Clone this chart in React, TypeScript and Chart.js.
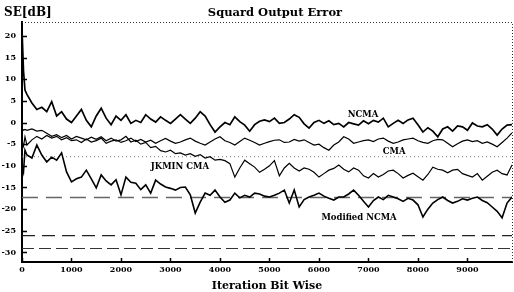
import React, { useEffect, useRef } from "react";
import { Chart, registerables } from "chart.js";
Chart.register(...registerables);

const iterations = [
  0, 30, 60,
  100, 200, 300, 400, 500, 600, 700, 800, 900,
  1000, 1100, 1200, 1300, 1400, 1500, 1600, 1700, 1800, 1900,
  2000, 2100, 2200, 2300, 2400, 2500, 2600, 2700, 2800, 2900,
  3000, 3100, 3200, 3300, 3400, 3500, 3600, 3700, 3800, 3900,
  4000, 4100, 4200, 4300, 4400, 4500, 4600, 4700, 4800, 4900,
  5000, 5100, 5200, 5300, 5400, 5500, 5600, 5700, 5800, 5900,
  6000, 6100, 6200, 6300, 6400, 6500, 6600, 6700, 6800, 6900,
  7000, 7100, 7200, 7300, 7400, 7500, 7600, 7700, 7800, 7900,
  8000, 8100, 8200, 8300, 8400, 8500, 8600, 8700, 8800, 8900,
  9000, 9100, 9200, 9300, 9400, 9500, 9600, 9700, 9800, 9900,
];

const ncma = [
  21.5, 12, 7.5,
  6.5, 4.5, 3, 3.5, 2.5, 4.8, 1.5, 2.5, 0.8,
  0, 1.5, 3, 0.5, -1, 1.5, 3.3, 1, -0.5, 1.5,
  0.5, 1.8, -0.2, 0.5, 0, 1.8, 0.8, 0.1, 1.3, 0.5,
  -0.2, 0.8, 1.8, 0.8, -0.2, 1, 2.5, 1.5, -0.5, -2.2,
  -1, 0, -0.5, 1.3, 0.2, -0.6, -2, -0.5, 0.3, 0.6,
  0.2, 1, -0.2, 0, 0.8, 1.8, 1.2, -0.3, -1.3, 0,
  0.5, -0.2, 0.4, -0.5, -0.2, -1, 0, -0.3, -0.6, 0.4,
  -0.3, 0.5, 0.1, 1, -1, -0.2, 0.5, -0.2, 0.6, 1,
  -0.5, -2.2, -1.2, -2, -3.3, -1.5, -1, -2, -0.8, -1,
  -1.8, -0.1, -0.8, -1, -0.5, -1.5, -2.9, -1.5, -0.6, -0.5,
];

const cma = [
  -4.5, -5.5, -3.3,
  -5.2, -4, -3.2, -3.8, -3, -3.6, -3.2, -4, -3.5,
  -4.2, -4, -4.6, -3.8, -4.5, -4.2, -3.6, -4.8, -4.3, -4,
  -4.6, -4.2, -3.6, -4.4, -3.9, -4.5, -4.1, -4.8, -4.2, -3.7,
  -4.3, -4.8, -4.5, -4, -3.6, -4.3, -4.8, -5.2, -4.5, -3.8,
  -3.3, -4.2, -4.6, -5.2, -4.4, -3.6, -4.1, -4.6, -5.2, -4.8,
  -4.4, -4.1, -4, -4.6, -4.5, -3.9, -4.3, -4, -4.6, -5.2,
  -5, -5.8, -6.4, -5.2, -4.5, -3.3, -3.8, -4.8, -4.5, -4.2,
  -4, -4.4, -3.8, -3.6, -4.3, -4.8, -4.5, -4, -3.8, -3.6,
  -4.2, -4.6, -4.8, -4.2, -3.9, -4, -4.8, -5.6, -4.9, -4.3,
  -4, -4.4, -4.2, -4.8, -4.5, -5, -5.6, -4.6, -3.6, -2.4,
];

const jkminCma = [
  -1.5, -1.8, -1.6,
  -1.8, -1.5, -2, -1.8, -2.5, -3.2, -2.8, -3.5, -3,
  -3.8, -3.2, -3.6, -4, -3.4, -3.9, -3.3, -4.2, -3.6, -4.3,
  -4, -3.2, -4.5, -4.1, -5, -4.6, -5.8, -5.5, -6.5, -6.8,
  -6.4, -7.2, -7, -7.5, -7.2, -7.8, -7.4, -8.2, -7.9, -8.7,
  -8.5, -8.8, -9.5, -12.6, -10.5, -8.7, -9.5, -10.3, -11.5, -10.8,
  -10, -8.8, -12.3, -10.5, -9.4, -10.5, -11.2, -10.5, -10.8, -11.5,
  -12.6, -11.8, -11, -10.6, -9.8, -10.8, -11.4, -10.5, -11, -12.3,
  -12.8, -11.8, -12.6, -12, -11.2, -11, -11.8, -12.8, -12.2, -11.7,
  -12.5, -13.3, -12, -10.3, -10.8, -11, -11.6, -11, -10.8, -11.8,
  -12.2, -12.6, -11.8, -13.3, -12.4, -11.5, -11, -11.8, -12.1, -9.8,
];

const modifiedNcma = [
  -10, -11.4, -6.4,
  -7.5, -8.2, -5.2, -7.5, -9.1, -8, -8.7, -7, -11.4,
  -13.7, -13, -12.6, -11, -13, -15.1, -12.1, -13.5, -14.4, -13.2,
  -16.7, -12.6, -13.8, -14, -15.5, -14.4, -16.3, -13.3, -14.2, -14.9,
  -15.2, -15.6, -15, -14.9, -16.7, -20.9, -18.4, -16.3, -16.8, -15.6,
  -17.2, -18.4, -17.9, -16.3, -17.4, -16.8, -17.2, -16.3, -16.5, -17,
  -17.2, -16.8, -16.3, -15.6, -18.6, -15.6, -19.5, -17.8, -17.2, -16.8,
  -16.3, -17, -17.5, -17.9, -17.2, -17.2, -16.5, -15.6, -16.8, -18.2,
  -19.5, -18, -17.2, -17.8, -16.8, -17.2, -17.6, -18.2, -17.5, -17.9,
  -19, -21.8, -20, -18.6, -17.8, -17.2, -18, -18.6, -18.2, -17.6,
  -17.9, -17.5, -17.2, -18, -18.5, -19.5, -20.5, -22, -18.6, -17.2,
];

const referenceLevels = [-7.9, -17.3, -26.1, -29.1];

const xTickValues = [0, 1000, 2000, 3000, 4000, 5000, 6000, 7000, 8000, 9000];
const yTickValues = [20, 15, 10, 5, 0, -5, -10, -15, -20, -25, -30];

const seriesNames = ["NCMA", "CMA", "JKMIN CMA", "Modified NCMA"];
const labelIterations = [6890, 7520, 3190, 6810];
const labelLevels = [1.7, -6.8, -10.3, -22.1];

const X_MIN = 0;
const X_MAX = 9900;
const Y_MIN = -32.2;
const Y_MAX = 23.2;

const FONT = "'DejaVu Serif', serif";

export default function App() {
  const ref = useRef<HTMLCanvasElement>(null);

  useEffect(() => {
    document.body.style.margin = "0";
    const canvas = ref.current;
    if (!canvas) return;

    const pts = (arr: number[]) => iterations.map((x, i) => ({ x, y: arr[i] }));
    const widths = [1.7, 1.2, 1.2, 1.6];
    const curve = (label: string, arr: number[], w: number) => ({
      label,
      data: pts(arr),
      borderColor: "#000",
      borderWidth: w,
      pointRadius: 0,
      tension: 0,
      fill: false,
    });

    const refStyles = [
      { dash: [1, 3], color: "#777", w: 1 },
      { dash: [16, 8], color: "#666", w: 1.6 },
      { dash: [13, 7], color: "#222", w: 1.2 },
      { dash: [12, 5], color: "#333", w: 1.1 },
    ];
    const refSets = referenceLevels.map((lv, i) => ({
      label: "ref" + i,
      data: [
        { x: X_MIN, y: lv },
        { x: X_MAX, y: lv },
      ],
      borderColor: refStyles[i].color,
      borderWidth: refStyles[i].w,
      borderDash: refStyles[i].dash,
      pointRadius: 0,
      fill: false,
    }));

    const seriesArrays = [ncma, cma, jkminCma, modifiedNcma];

    const deco = {
      id: "deco",
      afterDraw(chart: any) {
        const { ctx, chartArea: a, scales } = chart;
        const x = scales.x;
        const y = scales.y;
        ctx.save();
        ctx.strokeStyle = "#333";
        ctx.lineWidth = 1;
        ctx.setLineDash([1, 2]);
        ctx.beginPath();
        ctx.moveTo(a.left, a.top + 0.5);
        ctx.lineTo(a.right + 0.5, a.top + 0.5);
        ctx.lineTo(a.right + 0.5, a.bottom);
        ctx.stroke();
        ctx.setLineDash([]);
        ctx.strokeStyle = "#000";
        ctx.lineWidth = 1.5;
        ctx.beginPath();
        yTickValues.forEach((v) => {
          const py = Math.round(y.getPixelForValue(v)) + 0.5;
          ctx.moveTo(a.left, py);
          ctx.lineTo(a.left + 5, py);
        });
        xTickValues.forEach((v) => {
          const px = Math.round(x.getPixelForValue(v)) + 0.5;
          ctx.moveTo(px, a.bottom);
          ctx.lineTo(px, a.bottom - 4);
        });
        ctx.stroke();
        ctx.fillStyle = "#000";
        ctx.textBaseline = "middle";
        ctx.font = `bold 12px ${FONT}`;
        ctx.textAlign = "left";
        ctx.fillText("SE[dB]", 4, 13);
        ctx.font = `bold 11.5px ${FONT}`;
        ctx.textAlign = "center";
        ctx.fillText("Squard Output Error", 275, 13);
        ctx.font = `bold 11px ${FONT}`;
        ctx.fillText("Iteration Bit Wise", 267, 286);
        ctx.font = `bold 8.5px ${FONT}`;
        seriesNames.forEach((n, i) => {
          ctx.fillText(
            n,
            x.getPixelForValue(labelIterations[i]),
            y.getPixelForValue(labelLevels[i])
          );
        });
        ctx.restore();
      },
    };

    const chart = new Chart(canvas, {
      type: "line",
      data: {
        datasets: [
          ...seriesNames.map((n, i) => curve(n, seriesArrays[i], widths[i])),
          ...refSets,
        ] as any,
      },
      options: {
        animation: false,
        responsive: false,
        parsing: false as any,
        layout: { padding: { top: 22, right: 2, left: 0, bottom: 0 } },
        plugins: {
          legend: { display: false },
          title: { display: false },
          tooltip: { enabled: false },
        },
        scales: {
          x: {
            type: "linear",
            min: X_MIN,
            max: X_MAX,
            afterFit: (s: any) => {
              s.height = 30;
            },
            afterBuildTicks: (s: any) => {
              s.ticks = xTickValues.map((v) => ({ value: v }));
            },
            grid: { display: true, drawOnChartArea: false, drawTicks: false },
            border: { display: true, color: "#000", width: 2 },
            ticks: {
              padding: 3,
              color: "#000",
              maxRotation: 0,
              autoSkip: false,
              font: { family: FONT, weight: "bold", size: 8 },
              callback: (v: any) => String(v),
            },
          },
          y: {
            type: "linear",
            min: Y_MIN,
            max: Y_MAX,
            afterFit: (s: any) => {
              s.width = 22;
            },
            afterBuildTicks: (s: any) => {
              s.ticks = yTickValues.map((v) => ({ value: v }));
            },
            grid: { display: true, drawOnChartArea: false, drawTicks: false },
            border: { display: true, color: "#000", width: 2 },
            ticks: {
              padding: 6,
              color: "#000",
              autoSkip: false,
              font: { family: FONT, weight: "bold", size: 8 },
              callback: (v: any) => String(v),
            },
          },
        },
      } as any,
      plugins: [deco],
    });

    return () => chart.destroy();
  }, []);

  return (
    <div style={{ width: 514, height: 292 }}>
      <canvas ref={ref} width={514} height={292} style={{ display: "block" }} />
    </div>
  );
}
